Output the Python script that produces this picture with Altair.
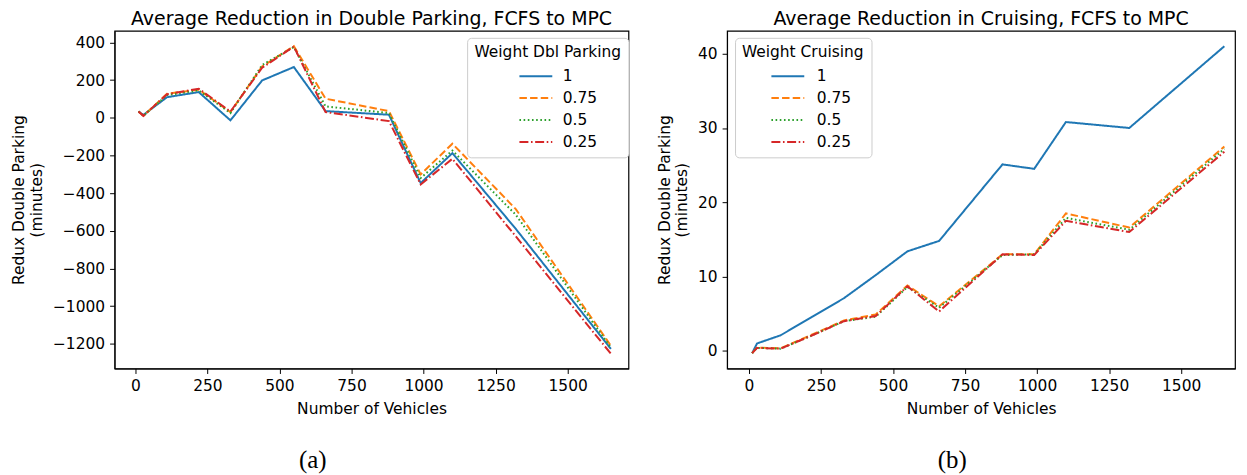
import altair as alt
import pandas as pd

# ---- data ----
vehicles = [11, 28, 110, 220, 330, 440, 550, 660, 880, 990, 1100, 1320, 1650]
weights = ["1", "0.75", "0.5", "0.25"]

# (a) Average reduction in double parking
dbl_w1 = [33, 15, 109, 136, -14, 198, 269, 35, 16, -347, -188, -590, -1227]
dbl_w075 = [33, 10, 127, 149, 30, 272, 380, 101, 35, -301, -138, -485, -1210]
dbl_w05 = [33, 10, 120, 145, 25, 280, 375, 60, 25, -320, -174, -515, -1220]
dbl_w025 = [33, 10, 125, 154, 33, 265, 378, 30, -18, -354, -218, -630, -1253]

# (b) Average reduction in cruising
cru_w1 = [-0.3, 1.0, 2.1, 4.6, 7.1, 10.2, 13.4, 14.8, 25.1, 24.5, 30.8, 30.0, 41.0]
cru_w075 = [-0.3, 0.45, 0.35, 2.2, 4.1, 4.9, 8.8, 6.0, 13.0, 13.0, 18.5, 16.6, 27.5]
cru_w05 = [-0.3, 0.4, 0.3, 2.1, 4.0, 4.6, 8.6, 5.8, 12.9, 13.0, 17.9, 16.3, 27.2]
cru_w025 = [-0.3, 0.4, 0.3, 2.1, 4.0, 4.7, 8.7, 5.3, 13.0, 12.9, 17.5, 16.0, 26.8]

x_ticks = [0, 250, 500, 750, 1000, 1250, 1500]
dbl_ticks = [-1200, -1000, -800, -600, -400, -200, 0, 200, 400]
cru_ticks = [0, 10, 20, 30, 40]

colors = ["#1f77b4", "#ff7f0e", "#2ca02c", "#d62728"]
dashes = [[1, 0], [7.5, 3.2], [1.6, 2.6], [9, 2.6, 1.6, 2.6]]


def long_frame(series):
    rows = []
    for w, vals in zip(weights, series):
        for x, v in zip(vehicles, vals):
            rows.append({"vehicles": x, "value": v, "weight": w})
    return pd.DataFrame(rows)


dbl_df = long_frame([dbl_w1, dbl_w075, dbl_w05, dbl_w025])
cru_df = long_frame([cru_w1, cru_w075, cru_w05, cru_w025])

H = 339


def panel(df, title, xdomain, ydomain, yticks, legend_title, leg_x, sym_off, lab_off,
          caption, cap_x, W):
    legend = alt.Legend(title=legend_title, orient="none", legendX=leg_x, legendY=7,
                        titleFontWeight="normal", symbolOffset=sym_off,
                        labelOffset=lab_off)
    lines = alt.Chart(df).mark_line(strokeWidth=2, clip=True).encode(
        x=alt.X("vehicles:Q",
                scale=alt.Scale(domain=xdomain, nice=False, zero=False),
                axis=alt.Axis(values=x_ticks, format="d", title="Number of Vehicles")),
        y=alt.Y("value:Q",
                scale=alt.Scale(domain=ydomain, nice=False, zero=False),
                axis=alt.Axis(values=yticks, format="d",
                              title=["Redux Double Parking", "(minutes)"])),
        color=alt.Color("weight:N", sort=weights,
                        scale=alt.Scale(domain=weights, range=colors), legend=legend),
        strokeDash=alt.StrokeDash("weight:N", sort=weights,
                                  scale=alt.Scale(domain=weights, range=dashes), legend=legend),
    )
    cap = alt.Chart(pd.DataFrame({"t": [caption]})).mark_text(
        font="Liberation Serif", fontSize=25, color="black", baseline="middle", align="center"
    ).encode(text="t:N", x=alt.value(cap_x), y=alt.value(431))
    return alt.layer(lines, cap).properties(width=W, height=H, title=title)


left = panel(dbl_df, "Average Reduction in Double Parking, FCFS to MPC",
             [-72, 1711], [-1331, 461], dbl_ticks, "Weight Dbl Parking", 354, 25, 15,
             "(a)", 199, 516)
right = panel(cru_df, "Average Reduction in Cruising, FCFS to MPC",
              [-76, 1687], [-2.37, 43.07], cru_ticks, "Weight Cruising", 8, 22, 17,
              "(b)", 226, 510)

chart = alt.hconcat(left, right, spacing=26).resolve_scale(
    color="independent", strokeDash="independent"
).resolve_legend(
    color="independent", strokeDash="independent"
).properties(
    padding={"top": 0, "left": 3, "right": 3, "bottom": 3}
).configure_view(
    stroke="black", strokeWidth=1.2
).configure_axis(
    grid=False, domainColor="black", tickColor="black", tickSize=5,
    labelFont="DejaVu Sans", labelFontSize=15.5, labelColor="black", labelPadding=5,
    titleFont="DejaVu Sans", titleFontSize=15.5, titleFontWeight="normal", titleColor="black",
    titlePadding=8
).configure_title(
    font="DejaVu Sans", fontSize=19, fontWeight="normal", color="black",
    anchor="middle", offset=2
).configure_legend(
    labelFont="DejaVu Sans", labelFontSize=15.5, labelColor="black",
    titleFont="DejaVu Sans", titleFontSize=15.5, titleFontWeight="normal", titleColor="black",
    symbolType="M-1.5,0L1.5,0", symbolStrokeWidth=2, symbolSize=484,
    strokeColor="#cccccc", fillColor="white", padding=7, cornerRadius=4,
    rowPadding=1, titlePadding=4, titleAnchor="middle"
)

chart.save("out.html", embed_options={"renderer": "svg", "actions": False})
